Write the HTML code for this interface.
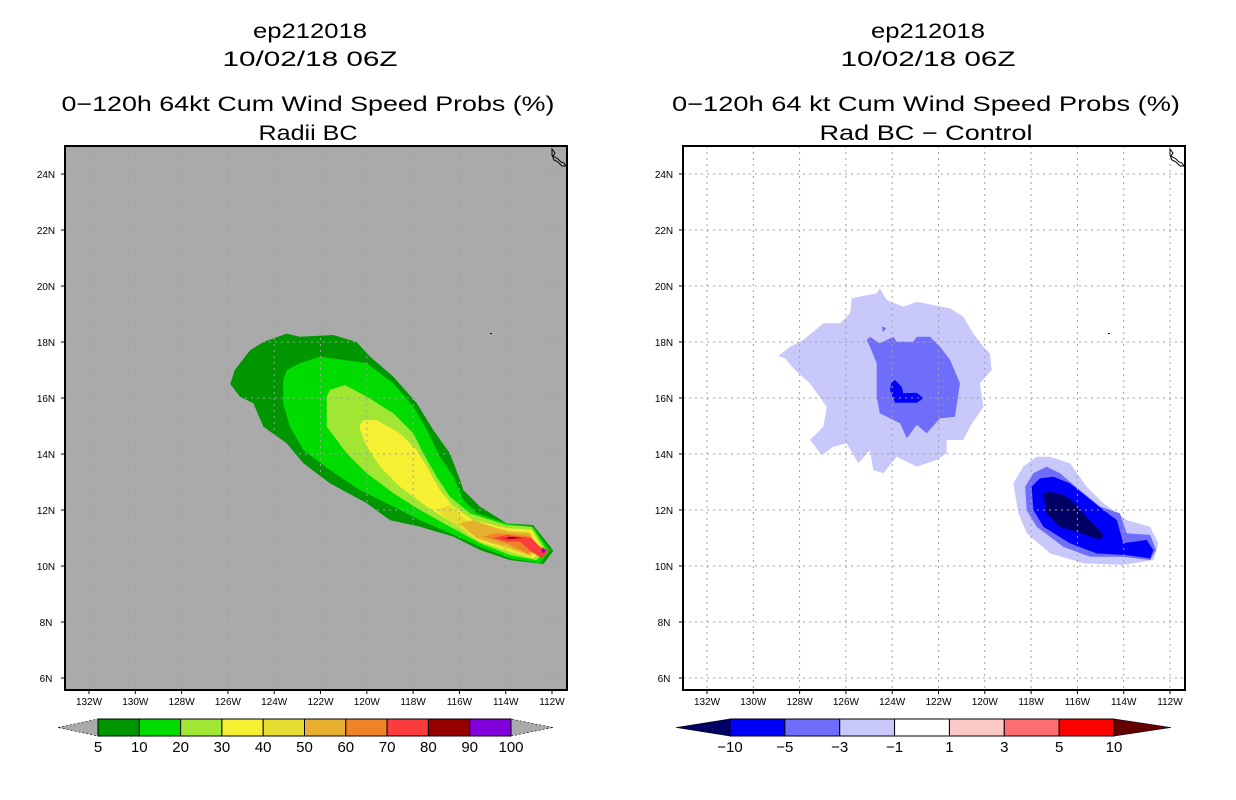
<!DOCTYPE html>
<html><head><meta charset="utf-8"><style>
html,body{margin:0;padding:0;background:#fff;width:1236px;height:800px;overflow:hidden}
svg{display:block}
text{font-family:"Liberation Sans","DejaVu Sans",sans-serif;fill:#000}
</style></head><body>
<svg id="fig" width="1236" height="800" viewBox="0 0 1236 800" xmlns="http://www.w3.org/2000/svg">
<g id="left"></g>
<g id="right"></g>
</svg>
<script>
// ---- data (lon in degrees West, lat in degrees North) ----
const latTicks=[6,8,10,12,14,16,18,20,22,24];
const lonTicks=[132,130,128,126,124,122,120,118,116,114,112];
const probLevels=[5,10,20,30,40,50,60,70,80,90,100];
const probColors=["#009600","#00dc00","#a0e632","#f5f032","#e6dc32","#e6af2d","#f08228","#fa3c3c","#960000","#8200dc"];
const diffLevels=[-10,-5,-3,-1,1,3,5,10];
const diffColors=["#000064","#0000fa","#6e6efa","#c8c8fa","#ffffff","#ffc8c8","#ff6e6e","#ff0000","#640000"];

const p5=[[125.9,16.5],[125.7,17.0],[125.05,17.7],[124.47,18.0],[123.46,18.3],[122.9,18.19],[121.45,18.25],[120.44,18.0],[119.86,17.48],[118.85,16.76],[117.84,15.81],[117.13,14.86],[116.41,14.02],[115.97,13.07],[115.83,12.71],[115.11,12.12],[113.96,11.52],[112.81,11.46],[111.94,10.55],[112.37,10.07],[113.81,10.21],[115.11,10.57],[116.26,11.05],[117.7,11.4],[119.0,11.64],[120.0,12.24],[121.59,12.95],[122.74,13.67],[123.46,14.38],[124.47,14.98],[124.9,15.81],[125.48,16.05]];
const p10=[[123.61,16.64],[123.46,17.0],[122.89,17.24],[122.02,17.48],[120.0,17.24],[118.85,16.52],[117.99,15.69],[117.41,14.86],[116.84,13.9],[116.26,13.19],[115.83,12.36],[115.25,11.88],[113.96,11.52],[112.81,11.4],[112.09,10.55],[112.52,10.1],[113.81,10.27],[115.11,10.69],[116.41,11.17],[117.7,11.64],[118.85,12.12],[120.29,12.71],[121.59,13.43],[122.74,14.14],[123.32,14.98],[123.61,15.81]];
const p20=[[121.73,16.05],[121.59,16.29],[120.94,16.46],[120.0,16.05],[118.85,15.45],[117.99,14.74],[117.56,14.02],[116.98,13.19],[116.41,12.48],[115.54,11.88],[113.96,11.46],[112.88,11.4],[112.23,10.55],[112.66,10.21],[113.81,10.39],[115.11,10.81],[116.41,11.4],[117.7,12.0],[118.85,12.6],[120.0,13.31],[120.87,14.02],[121.73,14.98]];
const p30=[[120.29,15.04],[120.15,15.21],[119.57,15.21],[118.57,14.74],[117.84,14.14],[117.41,13.55],[116.84,12.71],[116.26,12.12],[115.4,11.64],[113.96,11.35],[112.88,11.29],[112.37,10.55],[112.81,10.27],[113.81,10.51],[115.11,10.87],[116.26,11.52],[117.41,12.12],[118.57,12.83],[119.43,13.55],[120.0,14.26],[120.29,14.86]];
const p40=[[116.98,12.0],[116.41,12.18],[115.69,11.64],[113.96,11.29],[112.95,11.23],[112.52,10.55],[112.95,10.33],[113.81,10.57],[115.11,10.93],[116.26,11.52]];
const p50=[[115.97,11.52],[115.4,11.64],[113.96,11.23],[112.95,11.17],[112.66,10.57],[112.95,10.39],[113.96,10.69],[115.25,10.99]];
const p60=[[114.97,11.05],[114.39,11.17],[112.95,11.07],[112.66,10.57],[113.09,10.45],[113.96,10.81]];
const p70=[[114.54,10.99],[113.96,11.11],[112.88,10.99],[112.81,10.93],[112.52,10.69],[112.14,10.55],[112.44,10.27],[112.95,10.55],[113.38,10.87],[113.96,10.87]];
const p80=[[113.8,11.04],[113.25,11.0],[113.8,10.96],[114.15,11.0]];
const p90=[[112.37,10.65],[112.27,10.55],[112.37,10.45],[112.47,10.55]];
const probPolys=[p5,p10,p20,p30,p40,p50,p60,p70,p80,p90];

const d1a=[[128.92,17.5],[128.41,17.83],[127.84,18.07],[126.97,18.67],[126.25,18.67],[125.82,19.02],[125.75,19.56],[124.67,19.74],[124.53,19.92],[124.24,19.5],[123.52,19.26],[122.94,19.44],[121.5,19.2],[120.93,18.9],[120.5,18.31],[120.06,17.83],[119.78,17.6],[119.7,17.0],[120.21,16.52],[120.06,15.69],[120.64,14.98],[120.93,14.5],[121.65,14.5],[121.65,14.02],[122.08,13.79],[122.94,13.55],[123.81,13.9],[124.38,13.31],[124.82,13.43],[124.96,14.14],[125.46,13.67],[125.97,14.38],[126.54,14.26],[127.05,13.96],[127.55,14.5],[126.97,14.98],[126.83,15.69],[127.55,16.52],[128.2,17.0],[128.63,17.42]];
const d3a=[[125.1,18.07],[124.96,18.19],[124.53,17.95],[123.95,18.19],[123.81,18.01],[123.09,18.01],[122.94,18.19],[122.37,18.19],[121.94,17.83],[121.5,17.36],[121.07,16.52],[121.29,15.33],[121.94,15.27],[122.51,14.74],[122.94,15.04],[123.37,14.56],[123.66,15.1],[124.53,15.45],[124.67,16.05],[124.67,17.24],[124.96,17.83]];
const d3b=[[124.45,18.55],[124.25,18.5],[124.4,18.35]];
const d5a=[[124.02,16.58],[123.88,16.64],[123.59,16.4],[123.52,16.17],[122.94,16.19],[122.66,15.99],[122.94,15.83],[123.88,15.83],[124.1,16.29]];
const d1b=[[118.77,12.95],[118.34,13.55],[117.76,13.9],[117.18,13.9],[116.32,13.67],[115.6,12.83],[114.88,12.24],[113.87,11.64],[112.86,11.4],[112.5,10.81],[112.72,10.21],[114.02,10.04],[115.74,10.1],[117.18,10.45],[118.19,11.17],[118.55,11.88]];
const d3c=[[118.26,12.83],[117.9,13.31],[117.33,13.55],[116.75,13.31],[115.89,12.71],[115.02,12.12],[114.16,11.88],[113.87,11.17],[112.86,11.11],[112.6,10.57],[112.86,10.21],[114.02,10.33],[115.46,10.33],[116.61,10.69],[117.76,11.4],[118.19,12.0]];
const d5b=[[117.98,12.83],[117.62,13.13],[117.04,13.19],[116.32,12.95],[115.6,12.48],[114.88,12.0],[114.3,11.64],[114.02,10.81],[113.01,10.93],[112.72,10.57],[112.86,10.27],[113.87,10.39],[115.17,10.45],[116.32,10.81],[117.47,11.4],[117.9,12.0]];
const d10b=[[117.47,12.6],[117.18,12.65],[116.61,12.54],[116.18,12.3],[115.74,11.88],[114.88,11.11],[115.02,10.93],[115.89,11.19],[116.75,11.4],[117.33,11.88]];
const diffPolys=[d1a,d3a,d3b,d5a,d1b,d3c,d5b,d10b];
const diffPolyColors=["#c8c8fa","#6e6efa","#6e6efa","#0000fa","#c8c8fa","#6e6efa","#0000fa","#000064"];

// ---- layout ----
const NS="http://www.w3.org/2000/svg";
const FT=146,FB=690,FW=502;
function X(lon,off){return off+89+(132-lon)*23.15;}
function Y(lat){return 342-(lat-18)*28;}
function el(tag,attrs,parent){const e=document.createElementNS(NS,tag);for(const k in attrs)e.setAttribute(k,attrs[k]);parent.appendChild(e);return e;}
function txt(parent,x,y,s,size,len){const t=el('text',{x:x,y:y,'font-size':size,'text-anchor':'middle'},parent);if(len){t.setAttribute('textLength',len);t.setAttribute('lengthAdjust','spacingAndGlyphs');}t.textContent=s;return t;}

function panel(g,off,bg,titles,polys,cols,kind){
  const cx=off+310;
  const t1=txt(g,cx,38,titles[0],21,114);
  
  
  const t2=txt(g,cx,66,titles[1],21,175);
  
  
  const t3=txt(g,cx-(off?2:2),111,titles[2],21,titles[4]);
  
  
  const t4=txt(g,cx-(off?2:2),140,titles[3],21,titles[5]);
  
  
  const L=off+65;
  const r=el('rect',{x:L,y:FT,width:FW,height:FB-FT,fill:bg},g);
  
  
  polys.forEach((p,i)=>{
    const pl=el('polygon',{points:p.map(q=>X(q[0],off).toFixed(1)+','+Y(q[1]).toFixed(1)).join(' '),fill:cols[i]},g);
    
    
  });
  lonTicks.forEach(lon=>{const x=X(lon,off);if(x>L&&x<L+FW){const l=el('line',{x1:x,y1:FT,x2:x,y2:FB,stroke:'#a0a0a0','stroke-width':1,'stroke-dasharray':'2,4'},g);
    
    }});
  latTicks.forEach(lat=>{const y=Y(lat);const l=el('line',{x1:L,y1:y,x2:L+FW,y2:y,stroke:'#a0a0a0','stroke-width':1,'stroke-dasharray':'2,4'},g);
    
    });
  el('rect',{x:X(114.68,off),y:Y(18.32),width:2,height:1,fill:'#000'},g);
  const c=el('path',{d:`M${L+487} ${FT+3} l3 4 l-2 3 l5 3 l3 3 l3 1 l2 3 l-4 0 l-4 -4 l-4 -2 l-2 -5 z`,fill:'none',stroke:'#000','stroke-width':1},g);
  
  
  const fr=el('rect',{x:L,y:FT,width:FW,height:FB-FT,fill:'none',stroke:'#000','stroke-width':2},g);
  
  
  latTicks.forEach(lat=>{const y=Y(lat);el('line',{x1:L-4,y1:y,x2:L,y2:y,stroke:'#000'},g);
    const t=txt(g,L-19,y+4,lat+'N',10);
    
    });
  lonTicks.forEach(lon=>{const x=X(lon,off);el('line',{x1:x,y1:FB,x2:x,y2:FB+4,stroke:'#000'},g);
    const t=txt(g,x,705,lon+'W',10);
    
    });
}

function colorbar(g,x0,x1,tipL,tipR,levels,colors,triL,triR,name){
  const y0=719,y1=736,ym=727.5;
  const n=levels.length-1,w=(x1-x0)/n;
  const lt=el('polygon',{points:`${tipL},${ym} ${x0},${y0} ${x0},${y1}`,fill:triL,stroke:'#000','stroke-width':0.6,'stroke-dasharray':triL=='#aaaaaa'?'2,2':''},g);
  
  
  const rt=el('polygon',{points:`${tipR},${ym} ${x1},${y0} ${x1},${y1}`,fill:triR,stroke:'#000','stroke-width':0.6,'stroke-dasharray':triR=='#aaaaaa'?'2,2':''},g);
  
  
  for(let i=0;i<n;i++){
    const r=el('rect',{x:x0+i*w,y:y0,width:w,height:y1-y0,fill:colors[i],stroke:'#000','stroke-width':1},g);
    
    
  }
  levels.forEach((v,i)=>{const t=txt(g,x0+i*w,752,String(v).replace('-','\u2212'),15);
    
    });
}

const gl=document.getElementById('left'),gr=document.getElementById('right');
panel(gl,0,'#aaaaaa',['ep212018','10/02/18 06Z','0\u2212120h 64kt Cum Wind Speed Probs (%)','Radii BC',493,99],probPolys,probColors,'prob');
panel(gr,618,'#ffffff',['ep212018','10/02/18 06Z','0\u2212120h 64 kt Cum Wind Speed Probs (%)','Rad BC \u2212 Control',508,213],diffPolys,diffPolyColors,'diff');
colorbar(gl,98,511,58,553,probLevels,probColors,'#aaaaaa','#aaaaaa','prob-colorbar');
colorbar(gr,730,1114,676,1171,diffLevels.slice(0),diffColors.slice(1,8),diffColors[0],diffColors[8],'diff-colorbar');
</script>
</body></html>
